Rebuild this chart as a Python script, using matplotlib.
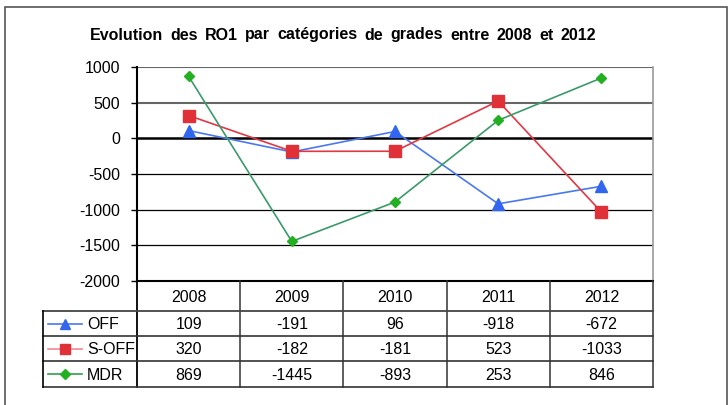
import matplotlib
matplotlib.use("Agg")
import matplotlib.pyplot as plt
from matplotlib.lines import Line2D
from matplotlib.patches import Rectangle

years = ["2008", "2009", "2010", "2011", "2012"]
series_names = ["OFF", "S-OFF", "MDR"]
off = [109, -191, 96, -918, -672]
s_off = [320, -182, -181, 523, -1033]
mdr = [869, -1445, -893, 253, 846]
yticks = [1000, 500, 0, -500, -1000, -1500, -2000]
title = "Evolution des RO1 par catégories de grades entre 2008 et 2012"

plt.rcParams['font.family'] = ['Liberation Sans', 'DejaVu Sans']

W, H = 728, 405
fig = plt.figure(figsize=(W / 100, H / 100), dpi=100)

def fx(px):
    return px / W

def fy(py):
    return 1 - py / H

# outer border (bottom edge falls outside the image)
fig.add_artist(Rectangle((fx(5), fy(420)), fx(722), fy(7) - fy(420), transform=fig.transFigure,
                         fill=False, edgecolor="#555555", linewidth=1.2, clip_on=False))

FS = 11.5
L, R, T, B = 137, 653, 67, 281
ax = fig.add_axes([fx(L), fy(B), fx(R - L), fy(T) - fy(B)])
ax.set_xlim(-0.5, len(years) - 0.5)
ax.set_ylim(-2000, 1000)
ax.set_yticks(yticks)
ax.set_yticklabels([str(v) for v in yticks], fontsize=FS)
ax.set_xticks([])
ax.tick_params(axis='y', length=4, width=1, pad=8)
for v in yticks:
    if v == 0:
        ax.axhline(v, color="black", lw=1.8, zorder=1)
    elif v in (1000, 500):
        ax.axhline(v, color="#666666", lw=1.5, zorder=1)
    elif v != -2000:
        ax.axhline(v, color="black", lw=0.9, zorder=1)
ax.spines['top'].set_visible(False)
ax.spines['right'].set_color("#999999")
ax.spines['right'].set_linewidth(1.2)
ax.spines['left'].set_linewidth(1.5)
ax.spines['bottom'].set_linewidth(1.5)

styles = [
    dict(color="#4a78f0", marker="^", mfc="#3366ee", mec="#3366ee", ms=8, lw=1.2),
    dict(color="#e03844", marker="s", mfc="#e03038", mec="#e03038", ms=8, lw=1.2),
    dict(color="#3a9a6a", marker="D", mfc="#22b022", mec="#22b022", ms=5.5, lw=1.2),
]
legend_line_colors = ["#4a78f0", "#f08890", "#30a050"]
data = [off, s_off, mdr]
x = list(range(len(years)))
for vals, st in zip(data, styles):
    ax.plot(x, vals, zorder=3, clip_on=False, **st)

# title: words spread to span the reference width
words = title.split(" ")
renderer = fig.canvas.get_renderer()
txts = [fig.text(0, fy(35), w, fontsize=FS, fontweight="bold", ha="left", va="center") for w in words]
widths = [t.get_window_extent(renderer=renderer).width for t in txts]
x0, x1 = 90, 596
gap = (x1 - x0 - sum(widths)) / (len(words) - 1)
cur = x0
for t, wdt in zip(txts, widths):
    t.set_x(fx(cur))
    cur += wdt + gap

# table
col_w = (R - L) / len(years)
header_top, header_bot = B, 311
row_edges = [311, 336, 361, 387]
tleft = 43

def hline(xa, xb, y, c="black", lw=1.2):
    fig.add_artist(Line2D([fx(xa), fx(xb)], [fy(y), fy(y)], transform=fig.transFigure, color=c, lw=lw))

def vline(xp, y0, y1, c="black", lw=1.2):
    fig.add_artist(Line2D([fx(xp), fx(xp)], [fy(y0), fy(y1)], transform=fig.transFigure, color=c, lw=lw))

for i, yr in enumerate(years):
    cx = L + col_w * (i + 0.5)
    fig.text(fx(cx), fy((header_top + header_bot) / 2 + 1), yr, fontsize=FS, ha="center", va="center")
for i in range(len(years) + 1):
    xp = L + col_w * i
    vline(xp, header_top, row_edges[-1], c="black" if i == 0 else "#333333", lw=1.3 if i == 0 else 1.1)
hline(tleft, R, header_bot, c="#444444", lw=1.3)
for yy in row_edges[1:]:
    hline(tleft, R, yy, c="#333333", lw=1.2)
vline(tleft, row_edges[0], row_edges[-1], lw=1.2)

for r, (name, vals, st, lc) in enumerate(zip(series_names, data, styles, legend_line_colors)):
    y0, y1 = row_edges[r], row_edges[r + 1]
    cy = (y0 + y1) / 2 + 1
    fig.add_artist(Line2D([fx(48), fx(82)], [fy(cy - 1), fy(cy - 1)], transform=fig.transFigure,
                          color=lc, lw=1.2))
    fig.add_artist(Line2D([fx(65)], [fy(cy - 1)], transform=fig.transFigure, marker=st["marker"],
                          mfc=st["mfc"], mec=st["mec"], ms=st["ms"] * 0.95, lw=0))
    fig.text(fx(87), fy(cy), name, fontsize=FS, ha="left", va="center")
    for i, v in enumerate(vals):
        cx = L + col_w * (i + 0.5)
        fig.text(fx(cx), fy(cy), str(v), fontsize=FS, ha="center", va="center")

fig.savefig("out.png", dpi=100)
